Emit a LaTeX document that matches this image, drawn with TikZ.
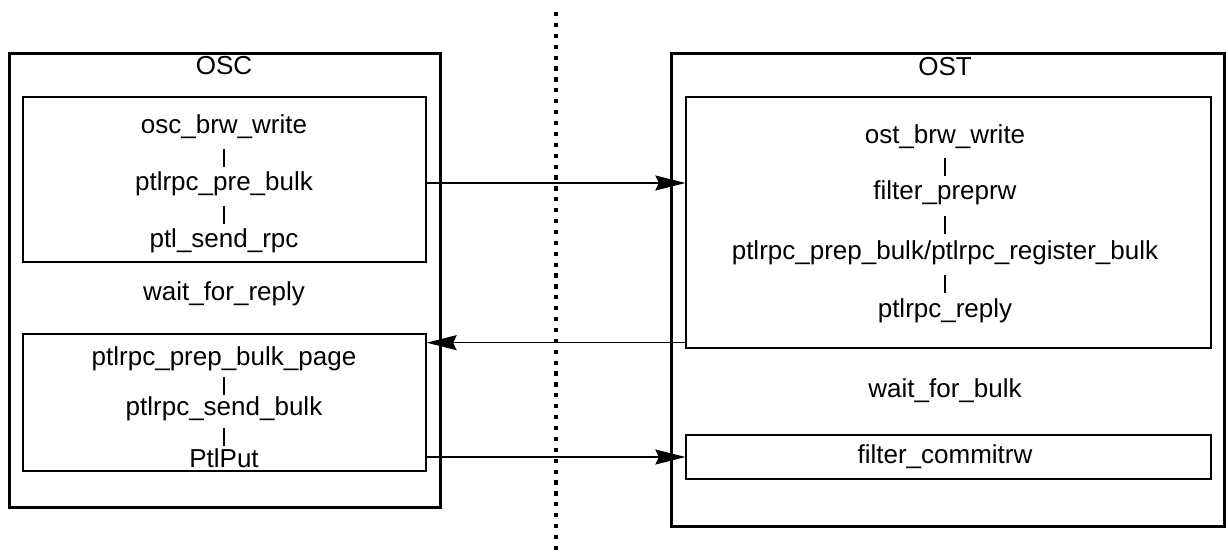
\documentclass[tikz,border=0pt]{standalone}
\usepackage{fontspec}
\setmainfont{Liberation Sans}
\usetikzlibrary{arrows.meta,positioning,calc}
\begin{document}
\begin{tikzpicture}[
        x=0.02cm, y=-0.02cm,
        side_box/.style={draw, line width=1.7pt, inner sep=0pt},
        call_box/.style={draw, line width=0.8pt, inner sep=0pt},
        call/.style={font=\fontsize{14.8}{17}\selectfont, inner sep=0pt, text height=0.72em, text depth=0.21em},
        bar/.style={line width=0.7pt},
        msg/.style={line width=0.7pt, -{Stealth[length=0.6cm, width=0.3cm, inset=0.07cm]}},
    ]
    \useasboundingbox (0,0) rectangle (1228,559);

    % Client and server frames
    \node[side_box, minimum width=8.64cm, minimum height=9.1cm] (osc) at (225,280.5) {};
    \node[side_box, minimum width=11.08cm, minimum height=9.48cm] (ost) at (948,290) {};
    \node[call] (osc_title) at (224,70) {OSC};
    \node[call] (ost_title) at (945,71) {OST};

    % Separator
    \draw[line width=2pt, dash pattern=on 2.4pt off 3.8pt] (556,12) coordinate (sep_top) -- (556,553) coordinate (sep_bot);

    % OSC calls
    \node[call_box, minimum width=8.06cm, minimum height=3.3cm] (osc_req) at (224.5,179.5) {};
    \node[call] (osc_brw) at (224,129) {osc\_brw\_write};
    \node[call] (pre_bulk) at (224,186) {ptlrpc\_pre\_bulk};
    \node[call] (send_rpc) at (224,243) {ptl\_send\_rpc};

    \node[call] (wait_reply) at (224,296) {wait\_for\_reply};

    \node[call_box, minimum width=8.06cm, minimum height=2.74cm] (osc_bulk) at (224.5,402.5) {};
    \node[call] (bulk_page) at (224,361) {ptlrpc\_prep\_bulk\_page};
    \node[call] (send_bulk) at (224,411) {ptlrpc\_send\_bulk};
    \node[call] (ptl_put) at (224,463) {PtlPut};

    % OST calls
    \node[call_box, minimum width=10.5cm, minimum height=5.02cm] (ost_req) at (948.5,222.5) {};
    \node[call] (ost_brw) at (945,139) {ost\_brw\_write};
    \node[call] (preprw) at (945,195) {filter\_preprw};
    \node[call] (reg_bulk) at (945,255) {ptlrpc\_prep\_bulk/ptlrpc\_register\_bulk};
    \node[call] (reply) at (945,313) {ptlrpc\_reply};

    \node[call] (wait_bulk) at (945,393) {wait\_for\_bulk};

    \node[call_box, minimum width=10.5cm, minimum height=0.88cm] (ost_commit) at (948.5,457) {};
    \node[call] (commitrw) at (945,459) {filter\_commitrw};

    % Call chains
    \foreach \a/\b in {osc_brw/pre_bulk, pre_bulk/send_rpc, bulk_page/send_bulk, send_bulk/ptl_put,
                       ost_brw/preprw, preprw/reg_bulk, reg_bulk/reply} {
        \draw[bar] ($(\a)!0.5!(\b)$) ++(0,-9) -- ++(0,18);
    }

    % Messages
    \coordinate (req_level) at (0,183);
    \draw[msg] (osc_req.east |- req_level) -- (ost_req.west |- req_level);
    \draw[msg] ([yshift=0.12cm]ost_req.south west) -- ([yshift=0.12cm]ost_req.south west -| osc_bulk.east);
    \draw[msg] (osc_bulk.east |- ost_commit) -- (ost_commit.west);

\end{tikzpicture}
\end{document}
